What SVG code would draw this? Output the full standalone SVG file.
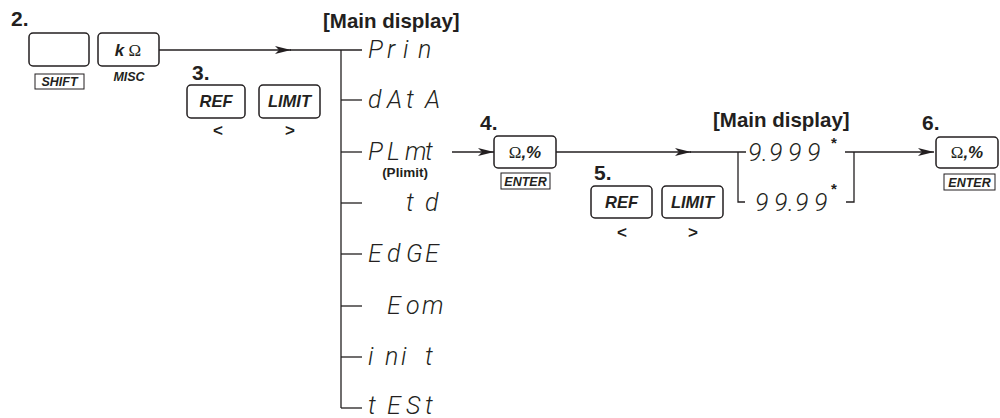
<svg xmlns="http://www.w3.org/2000/svg" width="1000" height="418" viewBox="0 0 1000 418">
<style>
.key{fill:#fff;stroke:#231f20;stroke-width:1.5}
.lab{fill:#fff;stroke:#231f20;stroke-width:1}
.step{font-family:"Liberation Sans",Arial,sans-serif;font-weight:bold;font-size:21px;fill:#231f20}
.bi{font-family:"Liberation Sans",Arial,sans-serif;font-weight:bold;font-style:italic;fill:#231f20}
.b{font-family:"Liberation Sans",Arial,sans-serif;font-weight:bold;fill:#231f20}
.om{font-family:"Liberation Serif","Times New Roman",serif;fill:#231f20}
.seg{font-family:Roboto,"DejaVu Sans",sans-serif;font-weight:300;font-style:italic;font-size:25px;fill:#231f20}
.ln{fill:none;stroke:#231f20;stroke-width:1.3}
.chev{font-family:"Liberation Sans",Arial,sans-serif;font-weight:bold;font-size:17px;fill:#231f20}
</style>
<defs>
<marker id="ah" markerUnits="userSpaceOnUse" markerWidth="17" markerHeight="9" refX="16" refY="4.5" orient="auto">
<path d="M0,0.5 L16,4.5 L0,8.5 L4,4.5 z" fill="#231f20"/>
</marker>
</defs>

<g id="connectors">
<line class="ln" x1="159" y1="50" x2="291" y2="50" marker-end="url(#ah)"/>
<line class="ln" x1="290" y1="50" x2="362" y2="50"/>
<line class="ln" x1="341" y1="50" x2="341" y2="408"/>
<line class="ln" x1="341" y1="100" x2="362" y2="100"/>
<line class="ln" x1="341" y1="152" x2="362" y2="152"/>
<line class="ln" x1="341" y1="203" x2="362" y2="203"/>
<line class="ln" x1="341" y1="254" x2="362" y2="254"/>
<line class="ln" x1="341" y1="306" x2="362" y2="306"/>
<line class="ln" x1="341" y1="357" x2="362" y2="357"/>
<line class="ln" x1="341" y1="408" x2="362" y2="408"/>
<line class="ln" x1="452" y1="152" x2="494" y2="152" marker-end="url(#ah)"/>
<line class="ln" x1="556" y1="152" x2="691" y2="152" marker-end="url(#ah)"/>
<line class="ln" x1="690" y1="152" x2="746" y2="152"/>
<polyline class="ln" points="738,152 738,202 745,202"/>
<line class="ln" x1="845" y1="152" x2="934" y2="152" marker-end="url(#ah)"/>
<polyline class="ln" points="854,152 854,202 846,202"/>
</g>

<g id="step2">
<text class="step" x="11" y="26">2.</text>
</g>
<g id="key-shift">
<rect class="key" x="29" y="33" width="60" height="33" rx="4"/>
<rect class="lab" x="35" y="74" width="49" height="15"/>
<text class="bi" x="59.5" y="86" font-size="12.5" text-anchor="middle">SHIFT</text>
</g>
<g id="key-kohm">
<rect class="key" x="98" y="33" width="61" height="33" rx="4"/>
<text x="128" y="56" text-anchor="middle" font-size="17"><tspan class="bi">k</tspan><tspan class="om"> Ω</tspan></text>
<text class="bi" x="129" y="81" font-size="12.5" text-anchor="middle">MISC</text>
</g>

<g id="step3">
<text class="step" x="192" y="80">3.</text>
</g>
<g id="key-ref1">
<rect class="key" x="187" y="85" width="58" height="33" rx="4"/>
<text class="bi" x="216" y="107" font-size="16.5" text-anchor="middle">REF</text>
<text class="chev" x="218" y="136" text-anchor="middle">&lt;</text>
</g>
<g id="key-limit1">
<rect class="key" x="259" y="85" width="61" height="33" rx="4"/>
<text class="bi" x="289.5" y="107" font-size="16.5" text-anchor="middle">LIMIT</text>
<text class="chev" x="290" y="136" text-anchor="middle">&gt;</text>
</g>

<g id="main-display-1">
<text class="b" x="323" y="28" font-size="20.5">[Main display]</text>
</g>
<g id="opt-prin"><text class="seg" x="368 387 403 418" y="58">Prin</text></g>
<g id="opt-data"><text class="seg" x="368 387 406 425" y="108">dAtA</text></g>
<g id="opt-plmt">
<text class="seg" x="368 387 405 425" y="160">PLmt</text>
<text class="b" x="405" y="177" font-size="13.5" text-anchor="middle">(Plimit)</text>
</g>
<g id="opt-td"><text class="seg" x="406 425" y="211">td</text></g>
<g id="opt-edge"><text class="seg" x="368 387 406 425" y="262">EdGE</text></g>
<g id="opt-eom"><text class="seg" x="387 406 422" y="314">Eom</text></g>
<g id="opt-init"><text class="seg" x="368 385 401 425" y="365">init</text></g>
<g id="opt-test"><text class="seg" x="368 387 406 425" y="414">tESt</text></g>

<g id="step4">
<text class="step" x="480" y="130">4.</text>
</g>
<g id="key-enter1">
<rect class="key" x="494" y="136" width="62" height="32" rx="4"/>
<text x="525" y="158" text-anchor="middle" font-size="17"><tspan class="om">Ω</tspan><tspan class="bi">,%</tspan></text>
<rect class="lab" x="501" y="173" width="49" height="16"/>
<text class="bi" x="525.5" y="186" font-size="12.5" text-anchor="middle">ENTER</text>
</g>

<g id="step5">
<text class="step" x="594" y="180">5.</text>
</g>
<g id="key-ref2">
<rect class="key" x="591" y="186" width="61" height="32" rx="4"/>
<text class="bi" x="621.5" y="208" font-size="16.5" text-anchor="middle">REF</text>
<text class="chev" x="622" y="238" text-anchor="middle">&lt;</text>
</g>
<g id="key-limit2">
<rect class="key" x="662" y="186" width="61" height="32" rx="4"/>
<text class="bi" x="692.5" y="208" font-size="16.5" text-anchor="middle">LIMIT</text>
<text class="chev" x="693" y="238" text-anchor="middle">&gt;</text>
</g>

<g id="main-display-2">
<text class="b" x="713" y="127" font-size="20.5">[Main display]</text>
</g>
<g id="val-9999">
<text class="seg" x="748 762 769 788 807" y="161">9.999</text>
<text class="b" x="834" y="148" font-size="15" text-anchor="middle">*</text>
</g>
<g id="val-99-99">
<text class="seg" x="755 774 788 795 814" y="211">99.99</text>
<text class="b" x="834" y="194" font-size="15" text-anchor="middle">*</text>
</g>

<g id="step6">
<text class="step" x="922" y="130">6.</text>
</g>
<g id="key-enter2">
<rect class="key" x="936" y="137" width="62" height="31" rx="4"/>
<text x="967" y="158" text-anchor="middle" font-size="17"><tspan class="om">Ω</tspan><tspan class="bi">,%</tspan></text>
<rect class="lab" x="944" y="174" width="51" height="16"/>
<text class="bi" x="969.5" y="187" font-size="12.5" text-anchor="middle">ENTER</text>
</g>
</svg>
